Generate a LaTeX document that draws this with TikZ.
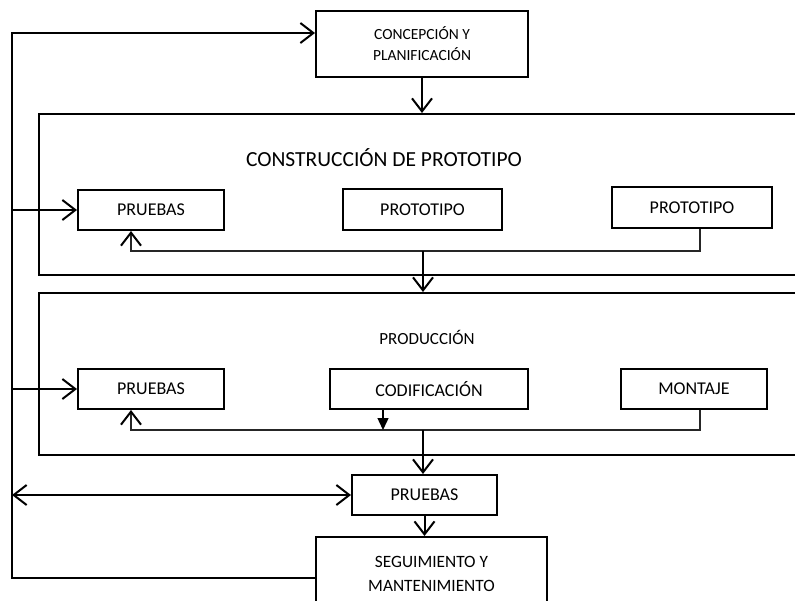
\documentclass[tikz,border=0pt]{standalone}
\usepackage{fontspec}
\setmainfont{Carlito}
\usetikzlibrary{arrows.meta}
\tikzset{
  box/.style={draw=black, line width=2pt, fill=white, inner sep=0pt, align=center,
    font=\fontsize{18}{21}\selectfont},
  bigbox/.style={draw=black, line width=2pt, inner sep=0pt, anchor=north west},
  arr/.style={line width=2pt, -{Straight Barb[length=13pt,width=20pt,line width=2pt]}},
  darr/.style={line width=2pt, {Straight Barb[length=13pt,width=20pt,line width=2pt]}-{Straight Barb[length=13pt,width=20pt,line width=2pt]}},
  fb/.style={line width=1.4pt, draw=black!85},
  fbarr/.style={fb, -{Straight Barb[length=13pt,width=20pt,line width=2pt,color=black]}},
  tri/.style={line width=1.4pt, -{Triangle[length=12pt,width=11pt]}},
  loopline/.style={line width=2pt},
}
\begin{document}
\begin{tikzpicture}[x=1pt,y=-1pt]
\useasboundingbox (0,0) rectangle (795,600);
% big frames
\node[bigbox, minimum width=765, minimum height=161] (c1) at (38,113) {};
\node[bigbox, minimum width=765, minimum height=162] (c2) at (38,292) {};
% titles
\node[font=\fontsize{21.5}{24}\selectfont] (t1) at (384,158) {CONSTRUCCIÓN DE PROTOTIPO};
\node[font=\fontsize{17}{20}\selectfont] (t2) at (427,337) {PRODUCCIÓN};
% top and bottom boxes
\node[box, minimum width=212, minimum height=66, font=\fontsize{15.5}{21}\selectfont] (cp) at (422,44) {CONCEPCIÓN Y\\PLANIFICACIÓN};
\node[box, minimum width=145, minimum height=40] (pb) at (424.5,495) {PRUEBAS};
\node[box, minimum width=231, minimum height=74, font=\fontsize{17.3}{24}\selectfont] (sg) at (431.5,574) {SEGUIMIENTO Y\\MANTENIMIENTO};
% row 1
\node[box, minimum width=146, minimum height=40] (p1) at (151,210) {PRUEBAS};
\node[box, minimum width=159, minimum height=41] (pr1) at (422.5,209.5) {PROTOTIPO};
\node[box, minimum width=160, minimum height=41] (pr2) at (692,207.5) {PROTOTIPO};
% row 2
\node[box, minimum width=146, minimum height=40] (p2) at (151,389) {PRUEBAS};
\node[box, minimum width=198, minimum height=40] (cod) at (429,389) {CODIFICACIÓN};
\node[box, minimum width=146, minimum height=40] (mon) at (694,389) {MONTAJE};
% coordinates
\coordinate (L1) at (12,578);
\coordinate (L2) at (12,33);
\coordinate (d1) at (700,251);
\coordinate (f1) at (131,251);
\coordinate (m1) at (423,251);
\coordinate (d2) at (700,430);
\coordinate (f2) at (131,430);
\coordinate (m2) at (423,430);
\coordinate (k) at (383,430);
% outer loop
\draw[arr] (sg.west |- L1) -- (L1) -- (L2) -- (cp.west |- L2);
\draw[arr] (L1 |- p1.west) -- (p1.west);
\draw[arr] (L1 |- p2.west) -- (p2.west);
\draw[darr] (L1 |- pb.west) -- (pb.west);
% concepcion to construction
\draw[arr] (cp.south) -- (cp.south |- c1.north);
% feedback 1
\draw[fbarr] (d1 |- pr2.south) -- (d1) -- (f1) -- (f1 |- p1.south);
\draw[arr] (m1) -- (m1 |- c2.north);
% feedback 2
\draw[fbarr] (d2 |- mon.south) -- (d2) -- (f2) -- (f2 |- p2.south);
\draw[tri] (k |- cod.south) -- (k);
\draw[arr] (m2) -- (m2 |- pb.north);
\draw[arr] (pb.south) -- (pb.south |- sg.north);
\end{tikzpicture}
\end{document}
